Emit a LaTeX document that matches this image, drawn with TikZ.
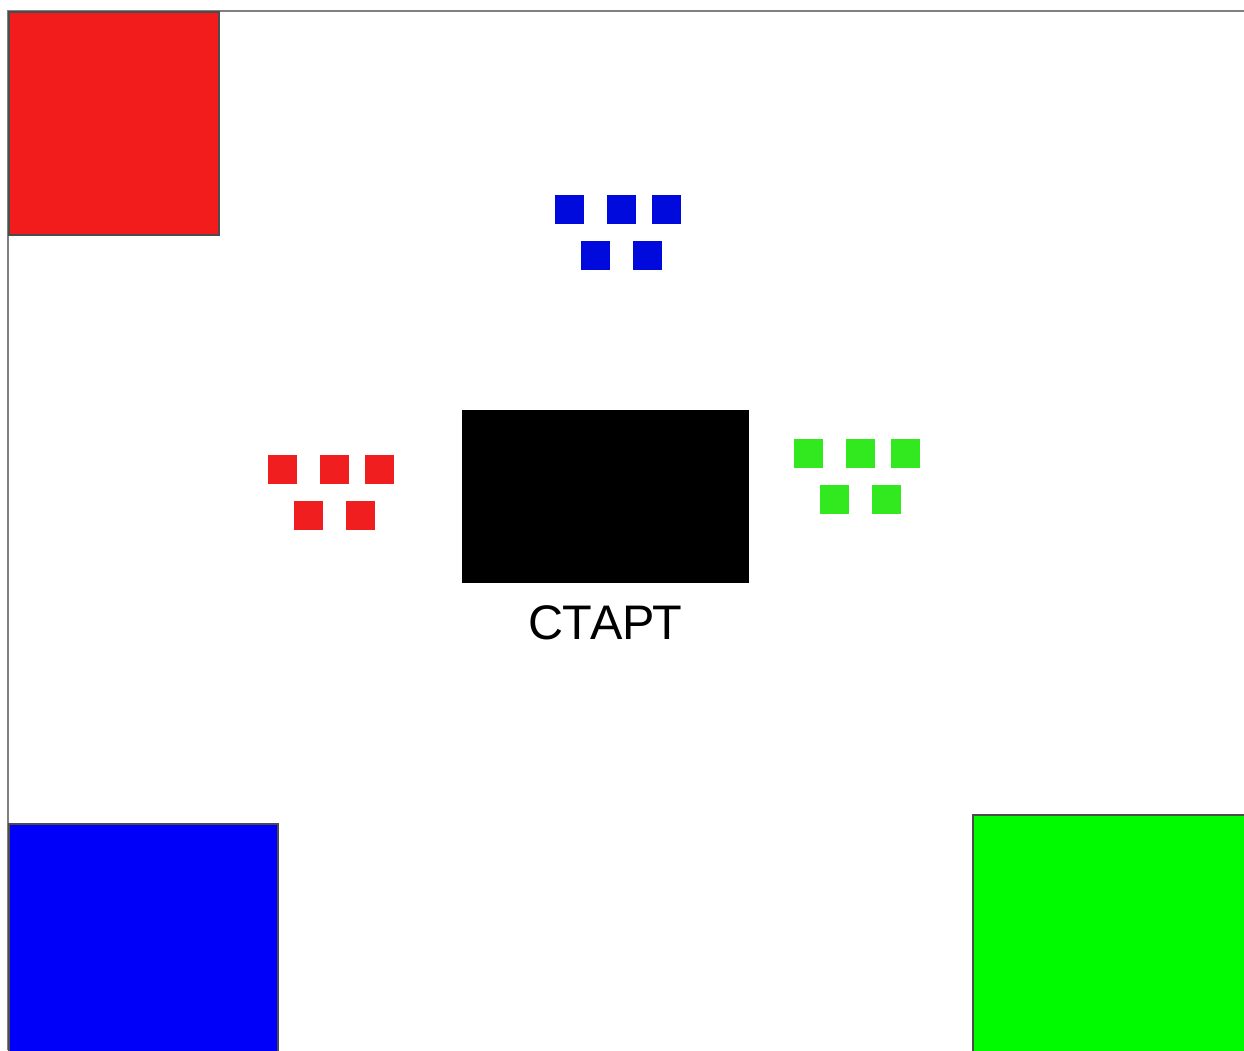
\documentclass[tikz,border=0pt]{standalone}
\usepackage{fontspec}
\setmainfont{Liberation Sans}
\usetikzlibrary{positioning}
\definecolor{zonered}{RGB}{242,28,28}
\definecolor{zoneblue}{RGB}{0,0,250}
\definecolor{zonegreen}{RGB}{0,250,0}
\definecolor{cubered}{RGB}{240,30,30}
\definecolor{cubeblue}{RGB}{0,10,220}
\definecolor{cubegreen}{RGB}{50,232,30}

\begin{document}
\begin{tikzpicture}[
    x=0.01cm, y=-0.01cm,
    zone/.style={rectangle, draw=black!70, line width=0.5pt, inner sep=0pt, anchor=north west},
    cube/.style={rectangle, inner sep=0pt, minimum size=0.29cm, anchor=north west}
]
\useasboundingbox (0,0) rectangle (1244,1050);
\draw[gray, line width=0.8pt] (8,1050) -- (8,11) -- (1244,11);

% zones in the corners
\node[zone, fill=zonered, minimum width=2.10cm, minimum height=2.23cm] (redzone) at (8,11) {};
\node[zone, fill=zoneblue, minimum width=2.69cm, minimum height=2.35cm] (bluezone) at (8,823) {};
\node[zone, fill=zonegreen, minimum width=2.80cm, minimum height=2.44cm] (greenzone) at (972,814) {};

% start field
\node[zone, fill=black, draw=black, minimum width=2.85cm, minimum height=1.71cm] (start) at (462,410) {};
\node[inner sep=0pt, below=0.22cm of start, font=\fontsize{13.8}{16}\selectfont] (startlabel) {СТАРТ};

% cubes
\foreach \dx/\dy [count=\i] in {0/0,52/0,97/0,26/46,78/46} {
    \node[cube, fill=cubeblue] (blue\i) at (554+\dx,194+\dy) {};
    \node[cube, fill=cubered] (red\i) at (267+\dx,454+\dy) {};
    \node[cube, fill=cubegreen] (green\i) at (793+\dx,438+\dy) {};
}
\end{tikzpicture}
\end{document}
